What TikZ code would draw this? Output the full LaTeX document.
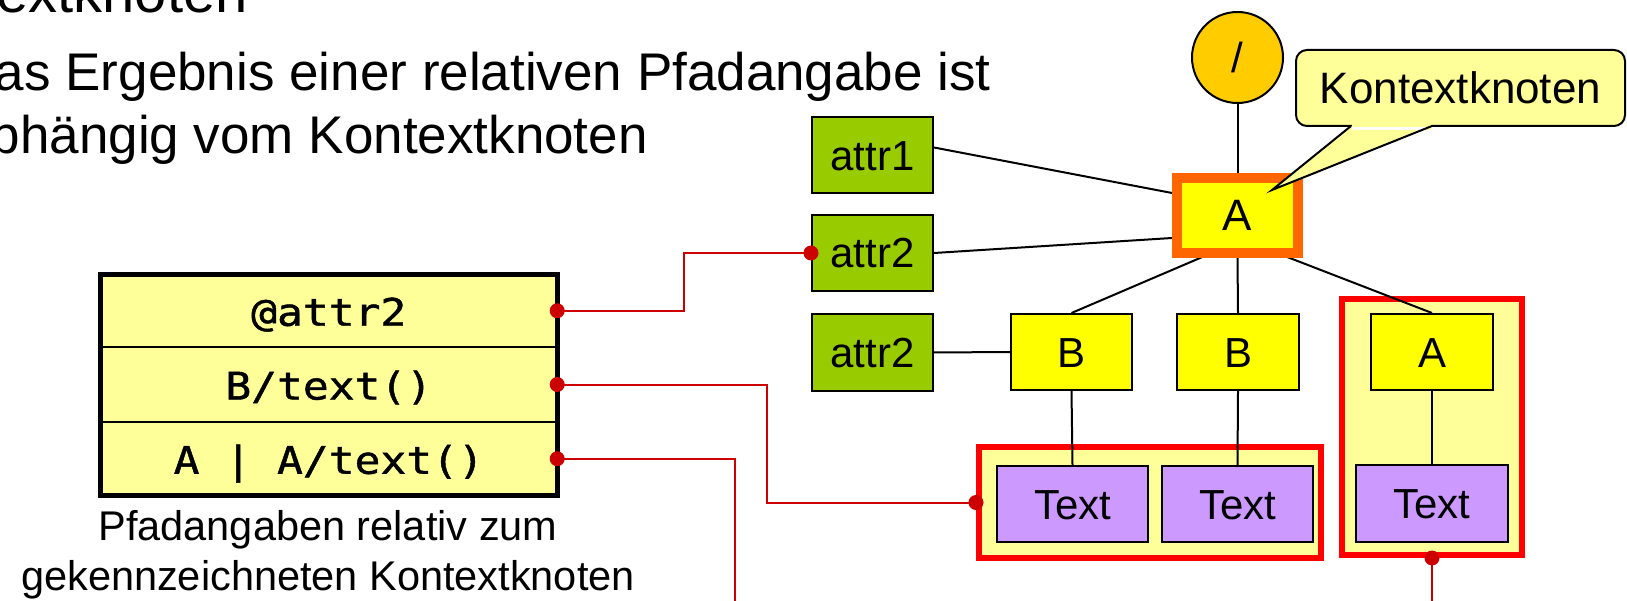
\documentclass[tikz,border=0pt]{standalone}
\usepackage{fontspec}
\setmainfont{Liberation Sans}
\newfontfamily\codefont{DejaVu Sans Mono}[FakeStretch=1.13,FakeBold=1.2]
\usetikzlibrary{calc}
\definecolor{grn}{HTML}{99CC00}
\definecolor{yel}{HTML}{FFFF00}
\definecolor{lyel}{HTML}{FFFF99}
\definecolor{lav}{HTML}{CC99FF}
\definecolor{orn}{HTML}{FF6600}
\definecolor{gold}{HTML}{FFCC00}
\definecolor{rbox}{HTML}{FF0000}
\definecolor{dred}{HTML}{CC0000}
\pgfdeclarelayer{back}
\pgfdeclarelayer{bg}
\pgfsetlayers{back,bg,main}
\begin{document}
\begin{tikzpicture}[x=1pt,y=-1pt,
  tbox/.style={draw=black,line width=2pt,inner sep=0pt,minimum width=121pt,minimum height=76pt,
    font=\fontsize{42}{42}\selectfont,text height=30pt,text depth=0pt},
  attrbox/.style={tbox,fill=grn},
  elbox/.style={tbox,fill=yel},
  txtbox/.style={tbox,fill=lav,minimum width=151pt},
  grp/.style={draw=rbox,line width=6pt,fill=lyel,inner sep=0pt},
  tl/.style={line width=2pt,black},
  rc/.style={line width=2pt,dred},
  rdot/.style={circle,fill=dred,inner sep=0pt,minimum size=15pt},
  rowx/.style={inner sep=0pt,minimum width=456.5pt,font=\codefont\fontsize{38}{38}\selectfont,
    text height=36pt,text depth=6pt},
  bigtext/.style={inner sep=0pt,font=\fontsize{53}{53}\selectfont},
  captext/.style={inner sep=0pt,anchor=base,font=\fontsize{41.5}{41.5}\selectfont},
]
\useasboundingbox (0,0) rectangle (1627,601);

% heading text
\node[anchor=base east,inner sep=0pt,font=\fontsize{58}{58}\selectfont] (h0) at (248,13) {Kontextknoten};
\node[bigtext,anchor=base east] (h1) at (991,91) {Das Ergebnis einer relativen Pfadangabe ist};
\node[bigtext,anchor=base east] (h2) at (648,154) {abhängig vom Kontextknoten};

% table
\node[draw=black,line width=5pt,fill=lyel,inner sep=0pt,minimum width=456.5pt,minimum height=221pt] (tab) at (328.75,385) {};
\node[rowx,minimum height=72.5pt] (r1) at (328.75,310.75) {@attr2};
\node[rowx,minimum height=75pt] (r2) at (328.75,384.5) {B/text()};
\node[rowx,minimum height=73.5pt] (r3) at (328.75,458.75) {A | A/text()};
\draw[line width=2.5pt] (r1.south west) -- (r1.south east);
\draw[line width=2.5pt] (r2.south west) -- (r2.south east);
\node[captext] (c1) at (328,540) {Pfadangaben relativ zum};
\node[captext] (c2) at (328,590) {gekennzeichneten Kontextknoten};

% groups
\begin{pgfonlayer}{back}
\node[grp,minimum width=342pt,minimum height=111pt] (g1) at (1150,502.5) {};
\node[grp,minimum width=180pt,minimum height=256pt] (g2) at (1432,427) {};
\end{pgfonlayer}

% tree nodes
\node[circle,draw=black,line width=2pt,fill=gold,minimum size=91pt,inner sep=0pt,
  font=\fontsize{42}{42}\selectfont] (root) at (1237.5,57.5) {/};
\node[tbox,fill=yel,draw=orn,line width=10pt,minimum width=121pt,minimum height=75pt,
  font=\fontsize{44}{44}\selectfont] (ctx) at (1237.5,215.5) {A};
\node[attrbox] (attr1) at (872.5,155.5) {attr1};
\node[attrbox] (attr2a) at (872.5,253) {attr2};
\node[attrbox,minimum height=77pt] (attr2b) at (872.5,352.5) {attr2};
\node[elbox] (b1) at (1071.5,352) {B};
\node[elbox,minimum width=122pt] (b2) at (1238,352) {B};
\node[elbox,minimum width=122pt] (a2) at (1432,352) {A};
\node[txtbox] (t1) at (1072.5,504) {Text};
\node[txtbox] (t2) at (1237.5,504) {Text};
\node[txtbox,minimum width=152pt,minimum height=77pt] (t3) at (1432,503.5) {Text};

% tree lines
\begin{pgfonlayer}{bg}
\draw[tl] (root) -- (ctx);
\draw[tl] ($(attr1.east)+(0,-8)$) -- ($(ctx.west)+(0,-22.5)$);
\draw[tl] (attr2a.east) -- ($(ctx.west)+(0,22.5)$);
\draw[tl] ($(ctx.south west)+(35,-3)$) -- (b1.north);
\draw[tl] (ctx.south) -- (b2.north);
\draw[tl] ($(ctx.south east)+(-21,-3)$) -- (a2.north);
\draw[tl] (attr2b.east) -- (b1.west);
\draw[tl] (b1.south) -- (t1.north);
\draw[tl] (b2.south) -- (t2.north);
\draw[tl] (a2.south) -- (t3.north);
\end{pgfonlayer}

% callout
\node[draw=black,line width=2pt,fill=lyel,rounded corners=11pt,inner sep=0pt,
  minimum width=329pt,minimum height=76pt,font=\fontsize{44}{44}\selectfont,
  text height=31.5pt,text depth=0pt] (kn) at (1460.5,88) {Kontextknoten};
\coordinate (tip) at (1272,190);
\coordinate (pb1) at ($(kn.south west)+(56,-1)$);
\coordinate (pb2) at ($(kn.south west)+(137,-1)$);
\fill[lyel] ($(pb1)+(1,4)$) -- ($(pb1)+(1,0)$) -- (tip) -- ($(pb2)+(-1,0)$) -- ($(pb2)+(-1,4)$) -- cycle;
\fill[lyel] ($(pb1)+(1,-4)$) rectangle ($(pb2)+(-1,1.5)$);
\draw[line width=2pt,line join=miter] (pb1) -- (tip) -- (pb2);

% red connectors
\coordinate (o3) at (735,610);
\coordinate (o4) at (1432,610);
\draw[rc] (r1.east) -- ++(127,0) |- (attr2a.west);
\draw[rc] (r2.east) -- ++(210,0) |- (g1.west);
\draw[rc] (r3.east) -| (o3);
\draw[rc] (g2.south) -- (o4);
\node[rdot] (d1) at (r1.east) {};
\node[rdot] (d2) at (r2.east) {};
\node[rdot] (d3) at (r3.east) {};
\node[rdot] (d4) at (attr2a.west) {};
\node[rdot] (d5) at (g1.west) {};
\node[rdot] (d6) at (g2.south) {};
\end{tikzpicture}
\end{document}
